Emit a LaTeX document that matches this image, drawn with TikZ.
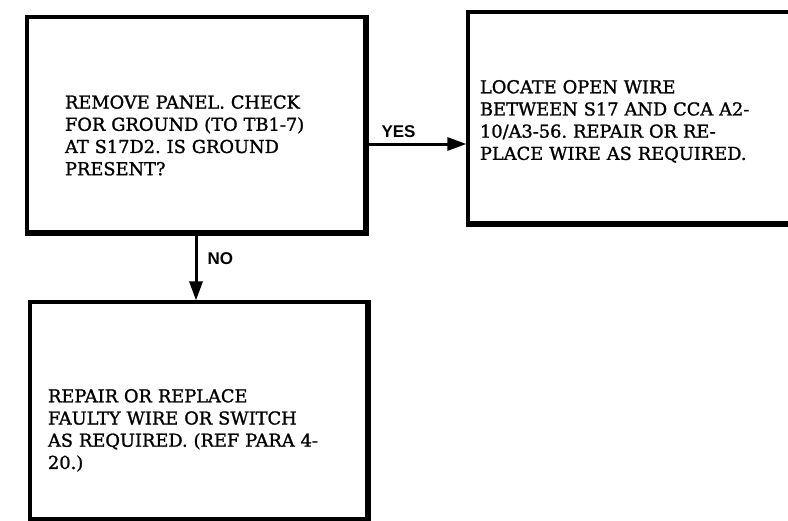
\documentclass[tikz,border=0pt]{standalone}
\usepackage{fontspec}
\setmainfont{DejaVu Serif}
\newfontfamily\boxfont[FakeBold=1.3]{DejaVu Serif}
\newfontfamily\labelfont{Liberation Sans}
\usetikzlibrary{arrows.meta,positioning}
\frenchspacing

\begin{document}
\begin{tikzpicture}[x=1pt,y=-1pt,
 box/.style={draw,line width=3.2pt,align=left,inner sep=0pt,font=\boxfont\fontsize{17.8}{22.2}\selectfont},
 heavy/.style={line width=5pt},
 arr/.style={-{Triangle[length=19pt,width=13pt]},line width=3pt},
 lab/.style={font=\labelfont\bfseries\fontsize{17}{19}\selectfont,inner sep=1pt}]
\clip (0,0) rectangle (788,520);
\node[box,minimum width=338pt,minimum height=215pt,text width=262pt,text height=35pt] (check) at (196,124.5)
 {REMOVE PANEL. CHECK\\FOR GROUND (TO TB1-7)\\AT S17D2. IS GROUND\\PRESENT?};
\node[box,minimum width=324pt,minimum height=211pt,text width=300pt,text height=21pt] (locate) at (630,117.5)
 {LOCATE OPEN WIRE\\BETWEEN S17 AND CCA A2-\\10/A3-56. REPAIR OR RE-\\PLACE WIRE AS REQUIRED.};
\node[box,minimum width=337pt,minimum height=217pt,text width=301pt,text height=53pt] (repair) at (198.5,410.5)
 {REPAIR OR REPLACE\\FAULTY WIRE OR SWITCH\\AS REQUIRED. (REF PARA 4-\\20.)};
% heavier right and bottom edges
\draw[heavy] (check.north east) |- (check.south west);
\draw[heavy] (locate.south east) -- (locate.south west);
\draw[heavy] (repair.north east) |- (repair.south west);
\coordinate (yesstart) at ([yshift=-19.5pt]check.east);
\draw[arr] (yesstart) -- node[lab,above=4pt,pos=0.32] {YES} (yesstart -| locate.west);
\draw[arr] (check.south) -- node[lab,right=9pt,pos=0.37] {NO} (check.south |- repair.north);
\end{tikzpicture}
\end{document}
